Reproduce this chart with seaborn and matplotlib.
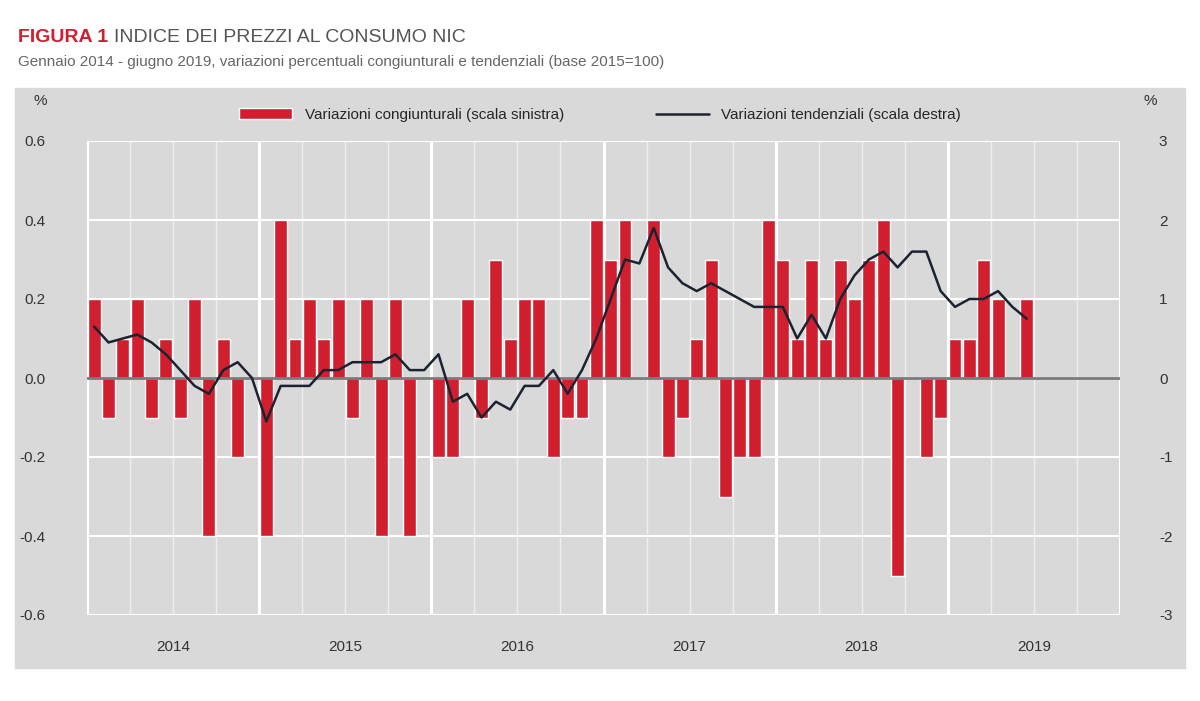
import matplotlib
matplotlib.use("Agg")
import matplotlib.pyplot as plt
import seaborn as sns
import pandas as pd
import numpy as np
from matplotlib.patches import Rectangle

sns.set_theme(style="white")
plt.rcParams['font.family'] = ['Liberation Sans', 'DejaVu Sans']
plt.rcParams['axes.unicode_minus'] = False

years = ["2014", "2015", "2016", "2017", "2018", "2019"]
mom = [0.2, -0.1, 0.1, 0.2, -0.1, 0.1, -0.1, 0.2, -0.4, 0.1, -0.2, 0.0,
       -0.4, 0.4, 0.1, 0.2, 0.1, 0.2, -0.1, 0.2, -0.4, 0.2, -0.4, 0.0,
       -0.2, -0.2, 0.2, -0.1, 0.3, 0.1, 0.2, 0.2, -0.2, -0.1, -0.1, 0.4,
       0.3, 0.4, 0.0, 0.4, -0.2, -0.1, 0.1, 0.3, -0.3, -0.2, -0.2, 0.4,
       0.3, 0.1, 0.3, 0.1, 0.3, 0.2, 0.3, 0.4, -0.5, 0.0, -0.2, -0.1,
       0.1, 0.1, 0.3, 0.2, 0.0, 0.2]
yoy = [0.65, 0.45, 0.5, 0.55, 0.45, 0.3, 0.1, -0.1, -0.2, 0.1, 0.2, 0.0,
       -0.55, -0.1, -0.1, -0.1, 0.1, 0.1, 0.2, 0.2, 0.2, 0.3, 0.1, 0.1,
       0.3, -0.3, -0.2, -0.5, -0.3, -0.4, -0.1, -0.1, 0.1, -0.2, 0.1, 0.5,
       1.0, 1.5, 1.45, 1.9, 1.4, 1.2, 1.1, 1.2, 1.1, 1.0, 0.9, 0.9,
       0.9, 0.5, 0.8, 0.5, 1.0, 1.3, 1.5, 1.6, 1.4, 1.6, 1.6, 1.1,
       0.9, 1.0, 1.0, 1.1, 0.9, 0.75]
left_ticks = [-0.6, -0.4, -0.2, 0.0, 0.2, 0.4, 0.6]
right_ticks = [-3, -2, -1, 0, 1, 2, 3]

df = pd.DataFrame({"m": np.arange(len(mom)), "mom": mom, "yoy": yoy})
red = "#d11f2f"
bg = "#d9d9d9"

fig = plt.figure(figsize=(12, 7.01), dpi=100)
fig.patches.append(Rectangle((15/1200, 1-668/701), 1170/1200, 580/701,
                             transform=fig.transFigure, color=bg, zorder=0))
ax = fig.add_axes([87/1200, 1-615/701, 1033/1200, 474/701])
ax.set_facecolor(bg)
ax.set_zorder(1)

for q in range(0, 73, 3):
    ax.axvline(q - 0.5, color="white", lw=2.2 if q % 12 == 0 else 1.0,
               alpha=1.0 if q % 12 == 0 else 0.6, zorder=0)
for t in left_ticks:
    ax.axhline(t, color="white", lw=1.5, zorder=0)

ax.bar(df["m"], df["mom"], width=0.9, color=red, zorder=2,
       label="Variazioni congiunturali (scala sinistra)")
ax.axhline(0, color="#7a7a7a", lw=2, zorder=3)
ax.set_xlim(-0.5, 71.5)
ax.set_ylim(-0.6, 0.6)
ax.set_yticks(left_ticks)
ax.set_yticklabels([f"{t:.1f}" for t in left_ticks])
ax.set_xticks([5.5 + 12*i for i in range(6)])
ax.set_xticklabels(years)
ax.tick_params(length=0, labelsize=11, colors="#333333")
ax.tick_params(axis="y", pad=30)
ax.tick_params(axis="x", pad=18)
for s in ax.spines.values():
    s.set_visible(False)

ax2 = ax.twinx()
sns.lineplot(data=df, x="m", y="yoy", ax=ax2, color="#1b2330", lw=1.8,
             label="Variazioni tendenziali (scala destra)", legend=False, zorder=4)
ax2.set_ylim(-3, 3)
ax2.set_yticks(right_ticks)
ax2.set_yticklabels([str(t) for t in right_ticks])
ax2.set_ylabel("")
ax2.set_xlabel("")
ax2.tick_params(length=0, labelsize=11, colors="#333333", pad=28)
for s in ax2.spines.values():
    s.set_visible(False)

h1, l1 = ax.get_legend_handles_labels()
h2, l2 = ax2.get_legend_handles_labels()
fig.legend(h1 + h2, l1 + l2, loc="center", bbox_to_anchor=(0.5, 1-115/701),
           ncol=2, frameon=False, fontsize=11, columnspacing=6, handlelength=3.5)

fig.text(40/1200, 1-105/701, "%", fontsize=11, color="#333333", ha="center")
fig.text(1150/1200, 1-105/701, "%", fontsize=11, color="#333333", ha="center")

fig.text(18/1200, 1-37/701, "FIGURA 1", color=red, fontsize=14, fontweight="bold", va="center")
fig.text(114/1200, 1-37/701, "INDICE DEI PREZZI AL CONSUMO NIC", color="#555555",
         fontsize=14, va="center")
fig.text(18/1200, 1-62/701,
         "Gennaio 2014 - giugno 2019, variazioni percentuali congiunturali e tendenziali (base 2015=100)",
         color="#666666", fontsize=11, va="center")

fig.savefig("out.png", dpi=100, facecolor="white")
